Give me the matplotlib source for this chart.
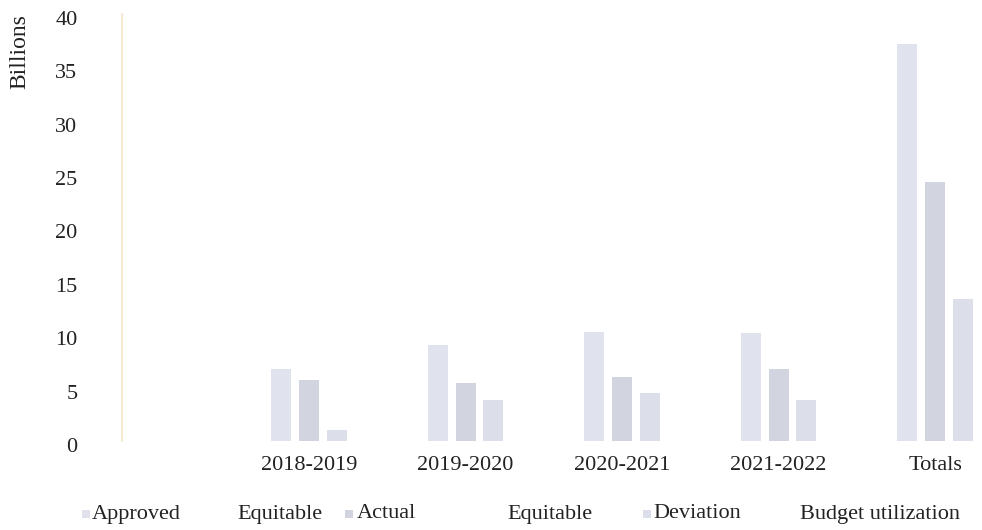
import numpy as np
import matplotlib.pyplot as plt
import matplotlib.patches as mpatches
from matplotlib.transforms import ScaledTranslation

categories = ["2018-2019", "2019-2020", "2020-2021", "2021-2022", "Totals"]
approved = [6.7, 9.0, 10.2, 10.1, 37.2]
actual = [5.7, 5.4, 6.0, 6.7, 24.3]
deviation = [1.0, 3.8, 4.5, 3.8, 13.3]
series_words = [["Approved", "Equitable"], ["Actual", "Equitable"],
                ["Deviation", "Budget utilization"]]

colors = ["#e0e3ee", "#d2d5df", "#dcdfea"]

plt.rcParams["font.family"] = ["Liberation Serif", "DejaVu Serif"]
plt.rcParams["font.size"] = 16

fig = plt.figure(figsize=(9.82, 5.30), dpi=100)
ax = fig.add_axes([122 / 982, 89 / 530, 1 - 122 / 982, 427 / 530])

x = np.arange(len(categories))
w = 0.128
off = 0.178
for i, vals in enumerate([approved, actual, deviation]):
    ax.bar(x + (i - 1) * off, vals, width=w, color=colors[i], linewidth=0)

ax.set_xlim(-1.195, 4.3)
ax.set_ylim(0, 40)
ax.set_yticks(range(0, 41, 5))
ax.set_xticks(x)
ax.set_xticklabels(categories)
ax.tick_params(axis="y", length=0, pad=32, colors="#222222")
ax.tick_params(axis="x", length=0, pad=11, colors="#222222")
# the scanned labels sit a few pixels below their levels
shift = ScaledTranslation(0, -4 / 100, fig.dpi_scale_trans)
for lab in ax.get_yticklabels():
    lab.set_transform(lab.get_transform() + shift)
for s in ["top", "right", "bottom"]:
    ax.spines[s].set_visible(False)
ax.spines["left"].set_color("#f1e6c8")
ax.spines["left"].set_linewidth(1.2)

fig.text(20 / 982, 1 - 52 / 530, "Billions", rotation=90, ha="center",
         va="center", color="#222222", fontsize=17)

# legend row (markers + words as in the scan)
marker_x = [82, 345, 643]
word_x = [[92, 237], [357, 507], [653, 800]]
ly = 1 - 514 / 530
for i, (mx, words, wx) in enumerate(zip(marker_x, series_words, word_x)):
    fig.patches.append(mpatches.Rectangle((mx / 982, ly - 0.008), 8 / 982, 8 / 530,
                                          transform=fig.transFigure,
                                          color=colors[i], linewidth=0))
    for word, px in zip(words, wx):
        fig.text(px / 982, ly, word, ha="left", va="center", color="#222222")

fig.savefig("out.png", dpi=100)
